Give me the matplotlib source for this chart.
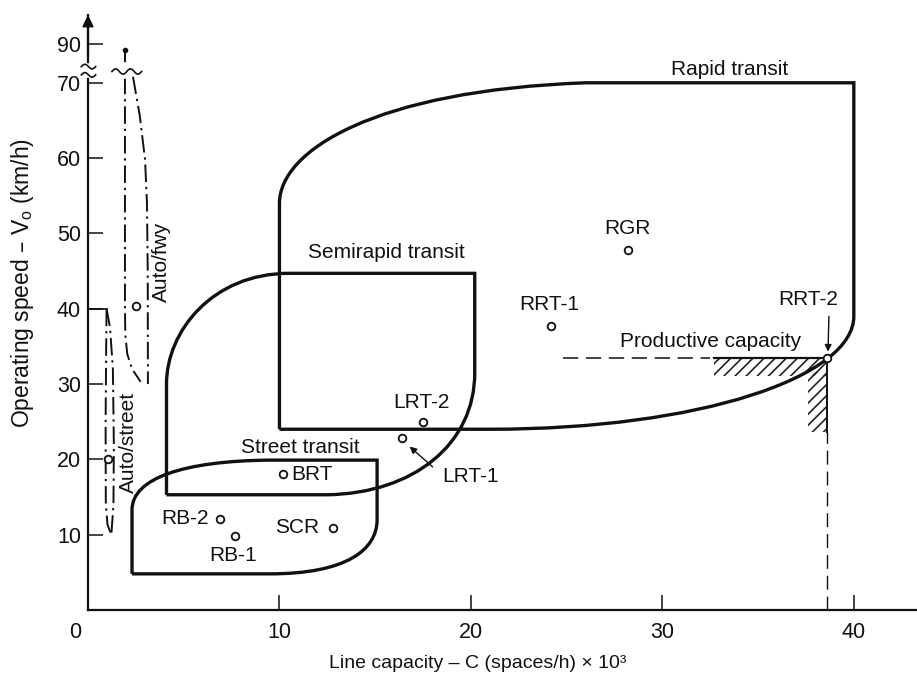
import numpy as np
import matplotlib
matplotlib.use("Agg")
import matplotlib.pyplot as plt
from matplotlib.path import Path
from matplotlib.patches import PathPatch, Rectangle

plt.rcParams['font.family'] = ['Liberation Sans', 'DejaVu Sans']
plt.rcParams['hatch.linewidth'] = 1.2

# ---------------- data ----------------
x_ticks = [10, 20, 30, 40]
x_tick_labels = ["10", "20", "30", "40"]
y_ticks = [10, 20, 30, 40, 50, 60, 70, 75.2]
y_tick_labels = ["10", "20", "30", "40", "50", "60", "70", "90"]
y_break = 71.6

# shape outlines (capacity x10^3, speed km/h); codes: M move, L line, C cubic control/end
rapid_verts = [(10, 24), (10, 54), (10, 61), (15, 69), (26, 70), (40, 70), (40, 39),
               (40, 31), (32, 24), (21, 24), (10, 24)]
rapid_codes = "MLCCCLLCCCL"
semi_verts = [(4.1, 15.3), (4.1, 30), (4.1, 37), (6.5, 44.7), (10.5, 44.7), (20.2, 44.7),
              (20.2, 31.5), (20.2, 22), (17, 15.5), (12.5, 15.3), (4.1, 15.3)]
semi_codes = "MLCCCLLCCCL"
street_verts = [(2.3, 4.8), (2.3, 13.3), (2.3, 17.5), (5, 19.8), (9.5, 19.9), (15.1, 19.9),
                (15.1, 12), (15.1, 8), (13.5, 4.8), (9.5, 4.8), (2.3, 4.8)]
street_codes = "MLCCCLLCCCL"

# auto modes (dash-dot envelopes)
fwy_left_x = [1.93, 1.93, 1.95, 2.05, 2.3, 2.75]
fwy_left_y = [70.8, 40, 36.5, 34.0, 32.0, 30.3]
fwy_right_x = [2.35, 2.7, 2.98, 3.08, 3.12, 3.13]
fwy_right_y = [70.8, 65.7, 59.8, 54.0, 45.0, 30.0]
fwy_top_x = [1.93, 1.93]
fwy_top_y = [72.4, 74.4]
street_auto_left_x = [0.97, 0.95, 0.92, 0.93, 1.02, 1.22]
street_auto_left_y = [40, 35, 25, 14, 11.3, 10.0]
street_auto_right_x = [0.97, 1.15, 1.3, 1.35, 1.33, 1.22]
street_auto_right_y = [40, 37.5, 32, 22, 14, 10.0]
street_auto_cap_x = [0, 0.97]
street_auto_cap_y = [40, 40]

# mode points
point_names = ["RGR", "RRT-1", "RRT-2", "LRT-2", "LRT-1", "BRT", "RB-2", "RB-1", "SCR", "Auto/fwy", "Auto/street"]
point_x = [28.2, 24.2, 38.6, 17.5, 16.4, 10.2, 6.9, 7.7, 12.8, 2.5, 1.05]
point_y = [47.8, 37.7, 33.5, 24.9, 22.9, 18.0, 12.1, 9.8, 10.9, 40.3, 20.0]

# productive capacity construction
prod_cap_y = 33.5
prod_dash_x = [24.8, 32.5]
prod_solid_x = [32.7, 38.6]
prod_vert_x = 38.6
prod_vert_dash_y = [0, 23.6]

# ---------------- figure ----------------
fig = plt.figure(figsize=(9.17, 6.88), dpi=100)
ax = fig.add_axes([88 / 917, 78 / 688, 829 / 917, 595 / 688])
ax.set_xlim(0, 43.3)
ax.set_ylim(0, 79)

code_map = {"M": Path.MOVETO, "L": Path.LINETO, "C": Path.CURVE4}
for verts, codes in [(rapid_verts, rapid_codes), (semi_verts, semi_codes), (street_verts, street_codes)]:
    p = Path(verts, [code_map[c] for c in codes])
    ax.add_patch(PathPatch(p, fill=False, lw=2.4, edgecolor='#111111', joinstyle='miter', zorder=3))

dd = (0, (9, 2.5, 1.2, 2.5))
for xs, ys in [(fwy_left_x, fwy_left_y), (fwy_right_x, fwy_right_y), (fwy_top_x, fwy_top_y),
               (street_auto_left_x, street_auto_left_y), (street_auto_right_x, street_auto_right_y)]:
    ax.plot(xs, ys, color='#111111', lw=1.4, linestyle=dd, zorder=3)
ax.plot(street_auto_cap_x, street_auto_cap_y, color='#111111', lw=1.2, zorder=3)
ax.plot([fwy_top_x[1]], [fwy_top_y[1]], 'o', color='#111111', ms=3, zorder=3)

# productive capacity lines and hatching
ax.plot(prod_dash_x, [prod_cap_y] * 2, color='#111111', lw=1.1, linestyle=(0, (10, 5)), zorder=3)
ax.plot(prod_solid_x, [prod_cap_y] * 2, color='#111111', lw=1.6, zorder=3)
ax.plot([prod_vert_x] * 2, [23.6, prod_cap_y], color='#111111', lw=1.4, zorder=3)
ax.plot([prod_vert_x] * 2, prod_vert_dash_y, color='#111111', lw=1.0, linestyle=(0, (10, 5)), zorder=3)
ax.add_patch(Rectangle((prod_solid_x[0], prod_cap_y - 2.4), prod_solid_x[1] - prod_solid_x[0], 2.4,
                       fill=False, hatch='///', lw=0, edgecolor='#222222', zorder=2))
ax.add_patch(Rectangle((prod_vert_x - 1.0, 23.6), 1.0, 8.0,
                       fill=False, hatch='///', lw=0, edgecolor='#222222', zorder=2))

# points
ax.plot(point_x, point_y, 'o', ms=5.5, mfc='white', mec='#111111', mew=1.3, zorder=5)

fs = 15
lab = dict(fontsize=fs, color='#111111', zorder=6)
ax.text(33.5, 71.8, "Rapid transit", ha='center', va='center', **lab)
ax.text(15.6, 47.4, "Semirapid transit", ha='center', va='center', **lab)
ax.text(11.1, 21.6, "Street transit", ha='center', va='center', **lab)
ax.text(28.2, 50.7, "RGR", ha='center', va='center', **lab)
ax.text(24.1, 40.5, "RRT-1", ha='center', va='center', **lab)
ax.text(37.6, 41.2, "RRT-2", ha='center', va='center', **lab)
ax.text(32.5, 35.6, "Productive capacity", ha='center', va='center', **lab)
ax.text(17.4, 27.6, "LRT-2", ha='center', va='center', **lab)
ax.text(20.0, 17.7, "LRT-1", ha='center', va='center', **lab)
ax.text(10.6, 18.0, "BRT", ha='left', va='center', **lab)
ax.text(6.3, 12.1, "RB-2", ha='right', va='center', **lab)
ax.text(7.6, 7.3, "RB-1", ha='center', va='center', **lab)
ax.text(12.1, 10.9, "SCR", ha='right', va='center', **lab)
ax.text(3.85, 46.2, "Auto/fwy", ha='center', va='center', rotation=90, **lab)
ax.text(2.1, 22.2, "Auto/street", ha='center', va='center', rotation=90, **lab)

arrow = dict(arrowstyle='-|>', lw=1.0, color='#111111', mutation_scale=10, shrinkA=0, shrinkB=0)
ax.annotate("", xy=(38.65, 34.3), xytext=(38.7, 39.0), arrowprops=arrow, zorder=6)
ax.annotate("", xy=(16.8, 21.7), xytext=(18.0, 19.0), arrowprops=arrow, zorder=6)

# axes styling
for s in ['top', 'right']:
    ax.spines[s].set_visible(False)
for s in ['left', 'bottom']:
    ax.spines[s].set_linewidth(1.6)
    ax.spines[s].set_color('#111111')
ax.set_xticks(x_ticks)
ax.set_xticklabels(x_tick_labels)
ax.set_yticks(y_ticks)
ax.set_yticklabels(y_tick_labels)
ax.tick_params(axis='both', direction='in', length=11, width=1.1, colors='#111111', labelsize=15.5)
ax.tick_params(axis='x', pad=9)
ax.tick_params(axis='y', pad=5)
ax.annotate("0", xy=(0, 0), xytext=(-13, -22), textcoords='offset pixels', ha='center', va='center',
            fontsize=15.5, color='#111111', annotation_clip=False)

# arrow at top of y axis
ax.annotate("", xy=(0, 1.0), xycoords='axes fraction', xytext=(0, 0.93),
            arrowprops=dict(arrowstyle='-|>', lw=1.6, color='#111111', mutation_scale=16, shrinkA=0, shrinkB=0),
            annotation_clip=False)

# axis break symbols
ax.plot([0, 0], [y_break - 0.6, y_break + 0.6], color='white', lw=4, zorder=7, clip_on=False)
wx = np.linspace(-0.35, 0.4, 30)
for dy in (-0.55, 0.55):
    ax.plot(wx, y_break + dy + 0.3 * np.sin((wx + 0.35) / 0.75 * 2 * np.pi), color='#111111', lw=1.2,
            zorder=8, clip_on=False)
ax.plot([fwy_left_x[0], fwy_left_x[0]], [70.9, 72.3], color='white', lw=4, zorder=7)
wx2 = np.linspace(1.25, 2.8, 40)
ax.plot(wx2, 71.5 + 0.35 * np.sin((wx2 - 1.25) / 1.55 * 4 * np.pi), color='#111111', lw=1.2, zorder=8)

ax.set_xlabel("Line capacity – C (spaces/h) × 10³", fontsize=14, color='#111111')
ax.set_ylabel("Operating speed – V$_{\\mathregular{o}}$ (km/h)", fontsize=16.5, color='#111111')
ax.xaxis.set_label_coords(0.47, -0.075)
ax.yaxis.set_label_coords(-0.063, 0.55)

fig.savefig("out.png", dpi=100)
